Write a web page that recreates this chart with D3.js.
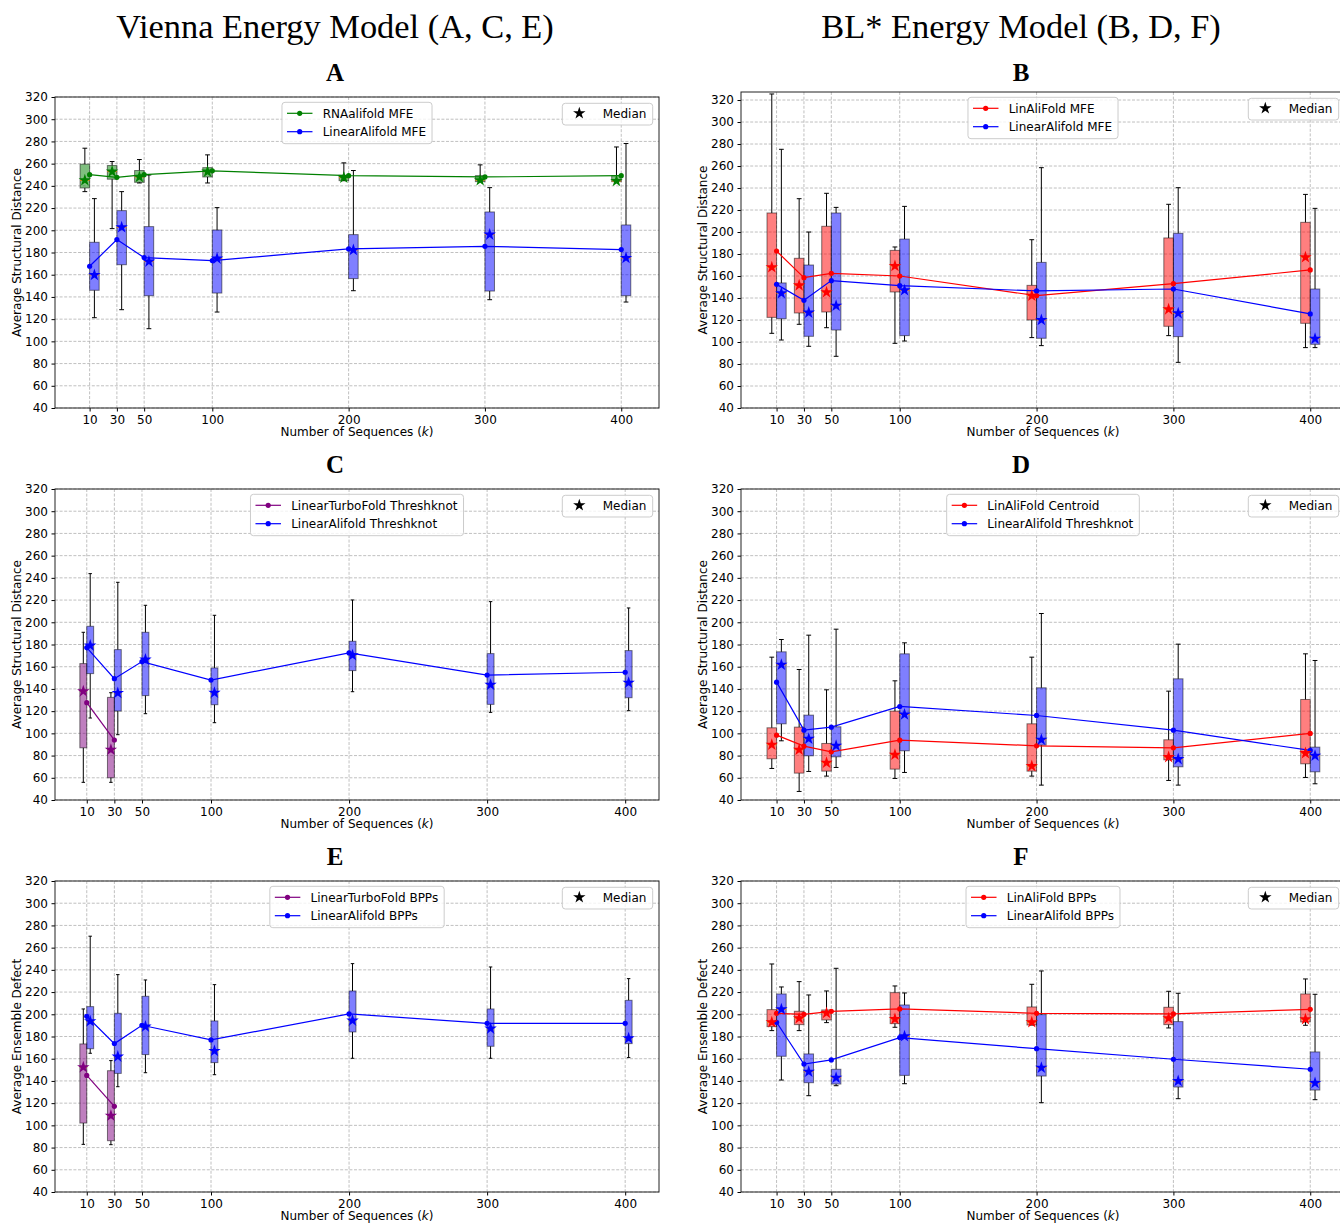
<!DOCTYPE html>
<html>
<head>
<meta charset="utf-8">
<title>Structural distance vs number of sequences</title>
<style>
  body { margin: 0; background: #fff; }
</style>
</head>
<body>
<svg width="1340" height="1224" font-family="DejaVu Sans, sans-serif"></svg>
<script src="https://cdn.jsdelivr.net/npm/d3@7"></script>
<script>
// number of sequences
const ks = [10, 30, 50, 100, 200, 300, 400]
const kTicks = [10, 30, 50, 100, 200, 300, 400]
const yTicks = d3.range(40, 321, 20)

// one row per k: [whisker low, q1, median, q3, whisker high, mean]
const aRnaalifoldMfe = [
  [234.8, 238.1, 245, 259.5, 273.9, 250.1], [201.5, 246, 252.8, 258.3, 261.9, 247.7],
  [242.6, 243.2, 248, 253.8, 263.7, 250.1], [242.6, 248, 252.8, 256.4, 267.9, 253.5],
  [244.7, 244.7, 247.4, 249.5, 260.7, 249.2], [243.8, 243.8, 245.1, 249.2, 258.9, 248],
  [243.8, 243.8, 244.4, 249.2, 275, 249.2]]
const aLinearAlifoldMfe = [
  [121.3, 146, 159.8, 189.2, 228.5, 167.6], [128.5, 169, 202.7, 217.7, 234.8, 191.6],
  [111.4, 141.1, 171.8, 203.3, 249.8, 175.4], [126.4, 143.5, 174.5, 200.3, 220.4, 172.7],
  [145.6, 156.5, 182.3, 196.1, 253.8, 183.2], [137.5, 145.3, 196.1, 216.5, 238.4, 185.6],
  [135.4, 141.1, 175, 204.8, 278.1, 182.6]]

const bLinAliFoldMfe = [
  [107.9, 122.4, 167.9, 217.3, 325.5, 182.7], [116.1, 126.4, 151.5, 176.1, 230.3, 158.5],
  [113, 127.3, 145.2, 205.2, 235.2, 162.4], [98.8, 145.5, 169.1, 183.3, 186.4, 160],
  [104, 120, 142.1, 151.5, 193, 142.1], [105.8, 114.3, 129.7, 194.6, 225.2, 153],
  [94.9, 117, 177, 208.8, 234.2, 165.5]]
const bLinearAlifoldMfe = [
  [101.8, 121.2, 144.3, 153.7, 275.2, 152.4], [96.1, 105.2, 126.7, 170, 200, 137.9],
  [87, 110.9, 133, 217.3, 222.4, 155.8], [100.9, 105.8, 147, 193.6, 223.3, 151.2],
  [96.7, 103.4, 120, 172.4, 258.5, 146.4], [81.5, 104.9, 126.1, 198.8, 240.3, 148.2],
  [94.9, 97.9, 103, 148.2, 221.5, 125.5]]

const cTurboThreshknot = [
  [55.9, 87, 137.8, 162.8, 191, 127.6], [55.9, 60, 85.3, 132.4, 136.6, 94]]
const cLinearAlifoldThreshknot = [
  [113.8, 153.8, 179, 196.4, 243.8, 177.2], [98.8, 120.1, 136.3, 175.4, 236, 149.2],
  [117.7, 134, 166.4, 191, 215.3, 164.6], [109.6, 125.8, 136.6, 158.9, 206.3, 148],
  [137.5, 156.5, 170.3, 182.9, 220.1, 172.4], [118.9, 126.1, 143.8, 171.8, 218.6, 152.5],
  [120.4, 132.1, 145.6, 174.5, 212.9, 155]]

const dLinAliFoldCentroid = [
  [68.4, 77.1, 89.7, 105, 168.6, 98.4], [47.7, 64.2, 85.2, 105.6, 157.5, 88.5],
  [61.5, 66, 73.5, 90.9, 139.2, 83.4], [59.4, 67.8, 80.7, 120, 147.3, 93.9],
  [61.5, 66, 70.5, 108.6, 168.6, 88.8], [57.6, 76.2, 78.6, 94.2, 138, 87],
  [60.3, 72.6, 82.2, 130.5, 171.6, 99.9]]
const dLinearAlifoldThreshknot = [
  [93.3, 108.6, 161.7, 173.4, 184.5, 146.1], [65.7, 79.8, 95.1, 116.4, 188.4, 102.9],
  [69.3, 78.9, 88.8, 105.9, 193.8, 105.6], [64.8, 84.3, 117, 171.6, 181.5, 124.2],
  [53.4, 89.4, 94.2, 141, 207.9, 116.1], [53.4, 69.9, 76.8, 149.1, 180.3, 102.9],
  [54.6, 65.4, 79.8, 87.6, 165.6, 84.6]]

const eTurboBpps = [
  [82.9, 102.1, 152.3, 173.3, 204.8, 145], [82.6, 86.2, 108.7, 149.2, 158.3, 117.1]]
const eLinearAlifoldBpps = [
  [164.9, 169, 193.7, 206.9, 270.3, 198.2], [134.8, 146.8, 161.9, 200.9, 235.7, 173.6],
  [147.4, 163.7, 188.9, 216.2, 230.9, 190.1], [145.6, 156.5, 167, 194, 226.7, 176.9],
  [160.4, 184.1, 194.3, 221, 245.6, 200.3], [160.4, 171.2, 187.1, 204.8, 242.6, 191.9],
  [161, 173.6, 178.4, 212.6, 232.1, 191.9]]

const fLinAliFoldBpps = [
  [185.3, 188.9, 192.8, 204.2, 245.3, 200.9], [185.3, 190.7, 196.4, 202.7, 229.4, 200],
  [192.5, 194.9, 201.2, 203.9, 221, 202.7], [188.3, 191.6, 195.8, 219.5, 225.5, 204.8],
  [190.4, 190.4, 192.8, 206.6, 227, 200.9], [187.7, 190.7, 196.4, 206.3, 220.7, 200.3],
  [190.1, 193.1, 195.5, 218.3, 231.8, 204.5]]
const fLinearAlifoldBpps = [
  [140.8, 162.2, 204.5, 218.3, 224.6, 192.8], [126.7, 138.4, 148.3, 164.3, 217.4, 155.2],
  [135.7, 137.2, 142.9, 150.5, 241.4, 158.9], [137.5, 145, 180.2, 208.4, 219.2, 179],
  [120.4, 144.4, 151.9, 199.7, 239, 169], [124, 134.5, 139.9, 193.4, 218.9, 159.5],
  [123.1, 131.8, 138.1, 166.1, 218, 150.5]]

const colTitles = ["Vienna Energy Model (A, C, E)", "BL* Energy Model (B, D, F)"]

// panel layout
const W = 604
const panels = [
  {id: "A", left: 55, top: 97, bottom: 408, xlim: [-15.4, 427.7], ylim: [40, 320], bw: 7,
   ylabel: "Average Structural Distance",
   series: [{name: "RNAalifold MFE", rows: aRnaalifoldMfe, color: "green"},
            {name: "LinearAlifold MFE", rows: aLinearAlifoldMfe, color: "blue"}]},
  {id: "B", left: 741, top: 92, bottom: 408, xlim: [-16, 425.4], ylim: [40, 327.3], bw: 7,
   ylabel: "Average Structural Distance",
   series: [{name: "LinAliFold MFE", rows: bLinAliFoldMfe, color: "red"},
            {name: "LinearAlifold MFE", rows: bLinearAlifoldMfe, color: "blue"}]},
  {id: "C", left: 55, top: 489, bottom: 800, xlim: [-13, 424.5], ylim: [40, 320], bw: 5,
   ylabel: "Average Structural Distance",
   series: [{name: "LinearTurboFold Threshknot", rows: cTurboThreshknot, color: "purple"},
            {name: "LinearAlifold Threshknot", rows: cLinearAlifoldThreshknot, color: "blue"}]},
  {id: "D", left: 741, top: 489, bottom: 800, xlim: [-16, 425.4], ylim: [40, 320], bw: 7,
   ylabel: "Average Structural Distance",
   series: [{name: "LinAliFold Centroid", rows: dLinAliFoldCentroid, color: "red"},
            {name: "LinearAlifold Threshknot", rows: dLinearAlifoldThreshknot, color: "blue"}]},
  {id: "E", left: 55, top: 881, bottom: 1192, xlim: [-13, 424.5], ylim: [40, 320], bw: 5,
   ylabel: "Average Ensemble Defect",
   series: [{name: "LinearTurboFold BPPs", rows: eTurboBpps, color: "purple"},
            {name: "LinearAlifold BPPs", rows: eLinearAlifoldBpps, color: "blue"}]},
  {id: "F", left: 741, top: 881, bottom: 1192, xlim: [-16, 425.4], ylim: [40, 320], bw: 7,
   ylabel: "Average Ensemble Defect",
   series: [{name: "LinAliFold BPPs", rows: fLinAliFoldBpps, color: "red"},
            {name: "LinearAlifold BPPs", rows: fLinearAlifoldBpps, color: "blue"}]}
]
const titleX = [335, 1021]

const svg = d3.select("svg")
const star = d3.symbol(d3.symbolStar, 48)

// column titles
colTitles.forEach((t, i) => {
  svg.append("text").attr("x", titleX[i]).attr("y", 38)
    .attr("text-anchor", "middle").attr("font-family", "Liberation Serif, serif")
    .attr("font-size", 34.4).text(t)
})

panels.forEach((p, i) => drawPanel(p, i % 2))

function drawPanel(p, col) {
  const x = d3.scaleLinear().domain(p.xlim).range([p.left, p.left + W])
  const y = d3.scaleLinear().domain(p.ylim).range([p.bottom, p.top])
  const g = svg.append("g")

  // panel letter
  g.append("text").attr("x", titleX[col]).attr("y", p.top - (p.id == "B" ? 11 : 16))
    .attr("text-anchor", "middle").attr("font-family", "Liberation Serif, serif")
    .attr("font-weight", "bold").attr("font-size", 25).text(p.id)

  // grid
  const grid = g.append("g").attr("stroke", "#b0b0b0").attr("stroke-width", 0.8)
    .attr("stroke-dasharray", "3,1.6")
  grid.selectAll(".gy").data(yTicks).join("line")
    .attr("x1", p.left).attr("x2", p.left + W)
    .attr("y1", d => y(d)).attr("y2", d => y(d))
  grid.selectAll(".gx").data(kTicks).join("line")
    .attr("x1", d => x(d)).attr("x2", d => x(d))
    .attr("y1", p.top).attr("y2", p.bottom)

  // axes
  const ax = g.append("g").attr("transform", `translate(0,${p.bottom})`)
    .call(d3.axisBottom(x).tickValues(kTicks).tickSize(3.5).tickPadding(3.5))
  const ay = g.append("g").attr("transform", `translate(${p.left},0)`)
    .call(d3.axisLeft(y).tickValues(yTicks).tickSize(3.5).tickPadding(3.5))
  ;[ax, ay].forEach(a => {
    a.select(".domain").remove()
    a.attr("font-size", 12).attr("font-family", "DejaVu Sans")
    a.selectAll("text").attr("fill", "#000")
  })

  // series
  p.series.forEach((s, si) => {
    const side = si == 0 ? -1 : 1
    const data = s.rows.map((r, i) => ({k: ks[i], lo: r[0], q1: r[1], med: r[2], q3: r[3], hi: r[4], mean: r[5]}))
    const bx0 = d => side < 0 ? x(d.k - p.bw) : x(d.k)
    const bx1 = d => side < 0 ? x(d.k) : x(d.k + p.bw)
    const bc = d => (bx0(d) + bx1(d)) / 2
    const cap = (x(p.bw) - x(0)) / 4
    const sg = g.append("g")

    // whiskers
    sg.selectAll(".wl").data(data).join("path")
      .attr("d", d => `M${bc(d)},${y(d.lo)}V${y(d.q1)}M${bc(d)},${y(d.q3)}V${y(d.hi)}` +
        `M${bc(d) - cap},${y(d.lo)}H${bc(d) + cap}M${bc(d) - cap},${y(d.hi)}H${bc(d) + cap}`)
      .attr("stroke", "#000").attr("stroke-width", 1).attr("fill", "none")
    // boxes
    sg.selectAll(".bx").data(data).join("rect")
      .attr("x", bx0).attr("width", d => bx1(d) - bx0(d))
      .attr("y", d => y(d.q3)).attr("height", d => y(d.q1) - y(d.q3))
      .attr("fill", s.color).attr("fill-opacity", 0.5)
      .attr("stroke", "#000").attr("stroke-opacity", 0.5).attr("stroke-width", 1)
    // median lines
    sg.selectAll(".md").data(data).join("line")
      .attr("x1", bx0).attr("x2", bx1).attr("y1", d => y(d.med)).attr("y2", d => y(d.med))
      .attr("stroke", "#ff7f0e").attr("stroke-width", 1)
    s.data = data
    s.bc = bc
  })

  // mean lines on top
  p.series.forEach(s => {
    g.append("path").datum(s.data)
      .attr("d", d3.line().x(d => x(d.k)).y(d => y(d.mean)))
      .attr("fill", "none").attr("stroke", s.color).attr("stroke-width", 1.2)
    g.append("g").selectAll("circle").data(s.data).join("circle")
      .attr("cx", d => x(d.k)).attr("cy", d => y(d.mean)).attr("r", 2.6).attr("fill", s.color)
  })
  // median stars
  p.series.forEach(s => {
    g.append("g").selectAll("path").data(s.data).join("path")
      .attr("transform", d => `translate(${s.bc(d)},${y(d.med)})`)
      .attr("d", star).attr("fill", s.color)
  })

  // frame
  g.append("rect").attr("x", p.left).attr("y", p.top).attr("width", W)
    .attr("height", p.bottom - p.top).attr("fill", "none")
    .attr("stroke", "#222").attr("stroke-width", 1)

  // axis labels
  const xl = g.append("text").attr("x", p.left + W / 2).attr("y", p.bottom + 28)
    .attr("text-anchor", "middle").attr("font-size", 12)
  xl.append("tspan").text("Number of Sequences (")
  xl.append("tspan").attr("font-style", "italic").text("k")
  xl.append("tspan").text(")")
  g.append("text")
    .attr("transform", `translate(${p.left - 34},${(p.top + p.bottom) / 2}) rotate(-90)`)
    .attr("text-anchor", "middle").attr("font-size", 12).text(p.ylabel)

  // main legend, upper center
  const lg = g.append("g")
  const lbox = lg.append("rect")
  const rowsY = [11, 29.4]
  let maxw = 0
  p.series.forEach((s, i) => {
    const row = lg.append("g").attr("transform", `translate(0,${rowsY[i]})`)
    row.append("line").attr("x1", 5).attr("x2", 30.5).attr("stroke", s.color).attr("stroke-width", 1.2)
    row.append("circle").attr("cx", 17.7).attr("r", 2.6).attr("fill", s.color)
    const t = row.append("text").attr("x", 40.7).attr("y", 4.3).attr("font-size", 12).text(s.name)
    maxw = Math.max(maxw, t.node().getComputedTextLength())
  })
  const lw = 40.7 + maxw + 6
  lbox.attr("width", lw).attr("height", 41.4).attr("rx", 3)
    .attr("fill", "#fff").attr("fill-opacity", 0.8).attr("stroke", "#ccc")
  lg.attr("transform", `translate(${p.left + W / 2 - lw / 2},${p.top + 5.3})`)

  // median legend, upper right
  const mg = g.append("g").attr("transform", `translate(${p.left + W - 6.3 - 90.4},${p.top + 6.3})`)
  mg.append("rect").attr("width", 90.4).attr("height", 21.7).attr("rx", 3)
    .attr("fill", "#fff").attr("fill-opacity", 0.8).attr("stroke", "#ccc")
  mg.append("path").attr("transform", "translate(17,10)").attr("d", star).attr("fill", "#000")
  mg.append("text").attr("x", 40.4).attr("y", 14.4).attr("font-size", 12).text("Median")
}
</script>
</body>
</html>
